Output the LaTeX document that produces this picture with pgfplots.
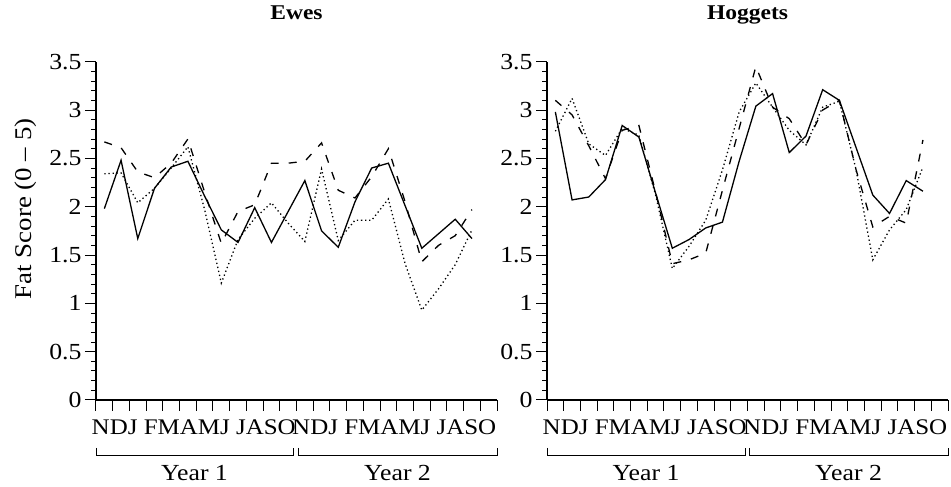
\documentclass[border=0pt]{standalone}
\usepackage{fontspec}
\setmainfont{Liberation Serif}[FakeStretch=1.12]
\usepackage{pgfplots}
\usepackage{pgfplotstable}
\pgfplotsset{compat=1.18}

\pgfplotstableread{
x solid dashed dotted
0.5 1.98 2.67 2.34
1.5 2.48 2.61 2.35
2.5 1.67 2.36 2.04
3.5 2.19 2.30 2.19
4.5 2.41 2.45 2.40
5.5 2.47 2.70 2.62
6.5 2.11 2.15 1.97
7.5 1.76 1.62 1.21
8.5 1.63 1.95 1.66
9.5 1.99 2.02 1.88
10.5 1.63 2.45 2.04
11.5 1.95 2.45 1.83
12.5 2.27 2.47 1.64
13.5 1.75 2.66 2.39
14.5 1.58 2.17 1.65
15.5 2.05 2.09 1.86
16.5 2.40 2.31 1.86
17.5 2.45 2.60 2.08
18.5 2.01 2.05 1.41
19.5 1.57 1.43 0.93
20.5 1.72 1.60 1.15
21.5 1.87 1.70 1.40
22.5 1.67 1.97 1.76
}\ewes

\pgfplotstableread{
x solid dashed dotted
0.5 2.98 3.10 2.78
1.5 2.07 2.95 3.12
2.5 2.10 2.63 2.65
3.5 2.28 2.29 2.53
4.5 2.84 2.79 2.81
5.5 2.72 2.84 2.74
6.5 2.14 2.15 2.12
7.5 1.57 1.41 1.36
8.5 1.66 1.45 1.59
9.5 1.78 1.52 1.86
10.5 1.84 2.17 2.38
11.5 2.47 2.81 2.98
12.5 3.04 3.45 3.28
13.5 3.17 3.03 3.03
14.5 2.56 2.91 2.79
15.5 2.73 2.64 2.64
16.5 3.21 3.00 3.03
17.5 3.10 3.10 3.09
18.5 2.61 2.38 2.38
19.5 2.12 1.79 1.45
20.5 1.93 1.90 1.76
21.5 2.27 1.83 1.97
22.5 2.16 2.69 2.41
}\hoggets

\pgfplotsset{
  panel/.style={
    anchor=south west,
    scale only axis,
    width=401pt, height=338.3pt,
    xmin=0, xmax=24, ymin=0, ymax=3.5,
    axis x line*=bottom, axis y line*=left,
    axis line style={line width=1.1pt},
    every tick/.style={line width=1pt, black},
    tick align=outside,
    major tick length=11pt, minor tick length=5pt,
    xtick={0,1,...,24}, xticklabels={},
    ytick={0,0.5,...,3.5}, minor y tick num=4,
    extra x ticks={5.85,17.85},
    extra x tick labels={NDJ FMAMJ JASO,NDJ FMAMJ JASO},
    extra x tick style={major tick style={draw=none},
      tick label style={font=\fontsize{22.3}{25}\selectfont, yshift=-5pt}},
    yticklabel style={font=\fontsize{23}{26}\selectfont},
    /pgf/number format/assume math mode=true,
    title style={font=\bfseries\fontsize{21}{24}\selectfont, at={(axis description cs:0.5,1)}, anchor=base, yshift=36pt},
    clip=false,
  },
  sol/.style={black, line width=1.3pt},
  dsh/.style={black, line width=1.3pt, dash pattern=on 8pt off 10pt},
  dtt/.style={black, line width=1.3pt, dash pattern=on 1.3pt off 2.8pt},
}

\begin{document}
\begin{tikzpicture}[x=1pt,y=1pt]
\useasboundingbox (0,0) rectangle (951,487);
\begin{axis}[panel, at={(96pt,87pt)}, title={Ewes},
  ylabel={Fat Score (0 -- 5)},
  ylabel style={font=\fontsize{24}{27}\selectfont, at={(axis description cs:-0.175,0.565)}, anchor=center}]
  \addplot[sol] table[x=x,y=solid]{\ewes};
  \addplot[dsh] table[x=x,y=dashed]{\ewes};
  \addplot[dtt] table[x=x,y=dotted]{\ewes};
\end{axis}
\begin{axis}[panel, at={(547pt,87pt)}, title={Hoggets}]
  \addplot[sol] table[x=x,y=solid]{\hoggets};
  \addplot[dsh] table[x=x,y=dashed]{\hoggets};
  \addplot[dtt] table[x=x,y=dotted]{\hoggets};
\end{axis}
% year brackets
\draw[line width=1pt] (96,39) -- (96,31) -- (293,31) -- (293,39);
\draw[line width=1pt] (298,39) -- (298,31) -- (497,31) -- (497,39);
\draw[line width=1pt] (547,39) -- (547,31) -- (745,31) -- (745,39);
\draw[line width=1pt] (749,39) -- (749,31) -- (948,31) -- (948,39);
\node[font=\fontsize{23}{26}\selectfont] at (194.5,14) {Year 1};
\node[font=\fontsize{23}{26}\selectfont] at (397.5,14) {Year 2};
\node[font=\fontsize{23}{26}\selectfont] at (646,14) {Year 1};
\node[font=\fontsize{23}{26}\selectfont] at (848.5,14) {Year 2};
\end{tikzpicture}
\end{document}
